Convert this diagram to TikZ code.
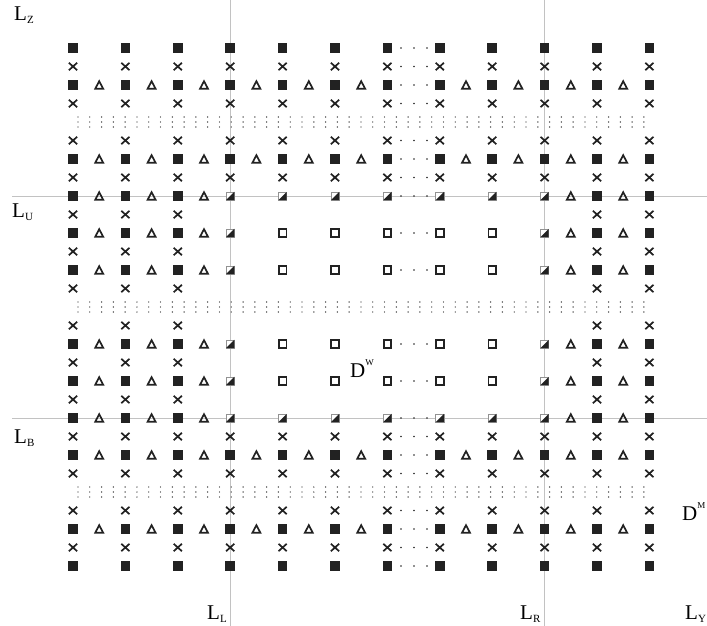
\documentclass[tikz,border=0pt]{standalone}
\usepackage{fontspec}
\setmainfont{Liberation Serif}
\definecolor{ink}{HTML}{222222}
\definecolor{rule}{HTML}{C2C2C2}

\begin{document}
\begin{tikzpicture}[x=1pt,y=-1pt,
  lbl/.style={font=\fontsize{21}{24}\selectfont,inner sep=0pt,anchor=base west},
  dot/.style={ink},
  pics/fsq/.style={code={\fill[ink] (-4.8,-4.6) rectangle (4.8,4.6);}},
  pics/osq/.style={code={\draw[ink,line width=1.8pt] (-3.8,-3.7) rectangle (3.8,3.7);}},
  pics/crs/.style={code={\draw[ink,line width=1.7pt] (-4.1,-3.7)--(4.1,3.7) (-4.1,3.7)--(4.1,-3.7);}},
  pics/tri/.style={code={\draw[ink,line width=1.7pt,line join=miter] (-4,3.8)--(4,3.8)--(0,-3.8)--cycle;}},
  pics/hsq/.style={code={\draw[rule!75!black,line width=.5pt,fill=white] (-4.1,-4.1) rectangle (4.1,4.1);
      \fill[ink] (4.1,-4.1)--(4.1,4.1)--(-4.1,4.1)--cycle;}}]
  \useasboundingbox (0,0) rectangle (707,626);

  % guide lines
  \draw[rule,line width=1pt] (230.2,0)--(230.2,626) (544.6,0)--(544.6,626)
    (12,196)--(707,196) (12,418)--(707,418);

  % rows of squares only
  \foreach \k in {0,28}
    \foreach \c in {0,...,11} \pic at ({73+52.4*\c},{48+18.5*\k}) {fsq};
  % full rows of crosses
  \foreach \k in {1,3,5,7,21,23,25,27}
    \foreach \c in {0,...,11} \pic at ({73+52.4*\c},{48+18.5*\k}) {crs};
  % full rows of squares and triangles
  \foreach \k in {2,6,22,26}{
    \foreach \c in {0,...,11} \pic at ({73+52.4*\c},{48+18.5*\k}) {fsq};
    \foreach \c in {0,...,5,7,8,9,10} \pic at ({99.2+52.4*\c},{48+18.5*\k}) {tri};
  }
  % crosses outside the window
  \foreach \k in {9,11,...,19}
    \foreach \c in {0,1,2,10,11} \pic at ({73+52.4*\c},{48+18.5*\k}) {crs};
  % rows through the window
  \foreach \k in {8,10,12,16,18,20}{
    \foreach \c in {0,1,2,10,11} \pic at ({73+52.4*\c},{48+18.5*\k}) {fsq};
    \foreach \c in {0,1,2,9,10} \pic at ({99.2+52.4*\c},{48+18.5*\k}) {tri};
    \foreach \c in {3,9} \pic at ({73+52.4*\c},{48+18.5*\k}) {hsq};
  }
  \foreach \k in {8,20}
    \foreach \c in {4,...,8} \pic at ({73+52.4*\c},{48+18.5*\k}) {hsq};
  \foreach \k in {10,12,16,18}
    \foreach \c in {4,...,8} \pic at ({73+52.4*\c},{48+18.5*\k}) {osq};

  % ellipsis between the middle columns
  \foreach \k in {0,1,2,3,5,6,7,8,10,12,16,18,20,21,22,23,25,26,27,28}
    \foreach \x in {401,414,427} \fill[dot] (\x,{48+18.5*\k}) circle (0.9);
  % rows of vertical dots
  \foreach \k in {4,14,24}
    \foreach \i in {0,...,48}
      \foreach \d in {-5,0,5} \fill[dot] ({78+11.79*\i},{48+18.5*\k+\d}) circle (0.7);

  % labels
  \node[lbl] (lz) at (14,21) {L\raisebox{-3pt}{\fontsize{11}{11}\selectfont Z}};
  \node[lbl] (lu) at (12,217) {L\raisebox{-3pt}{\fontsize{11}{11}\selectfont U}};
  \node[lbl] (lb) at (14,443) {L\raisebox{-3pt}{\fontsize{11}{11}\selectfont B}};
  \node[lbl] (ll) at (207,619) {L\raisebox{-3pt}{\fontsize{11}{11}\selectfont L}};
  \node[lbl] (lr) at (520,619) {L\raisebox{-3pt}{\fontsize{11}{11}\selectfont R}};
  \node[lbl] (ly) at (685,619) {L\raisebox{-3pt}{\fontsize{11}{11}\selectfont Y}};
  \node[lbl] (dm) at (682,520) {D\raisebox{12pt}{\fontsize{9}{9}\selectfont M}};
  \node[lbl] (dw) at (350,377) {D\raisebox{12pt}{\fontsize{9}{9}\selectfont W}};
\end{tikzpicture}
\end{document}
